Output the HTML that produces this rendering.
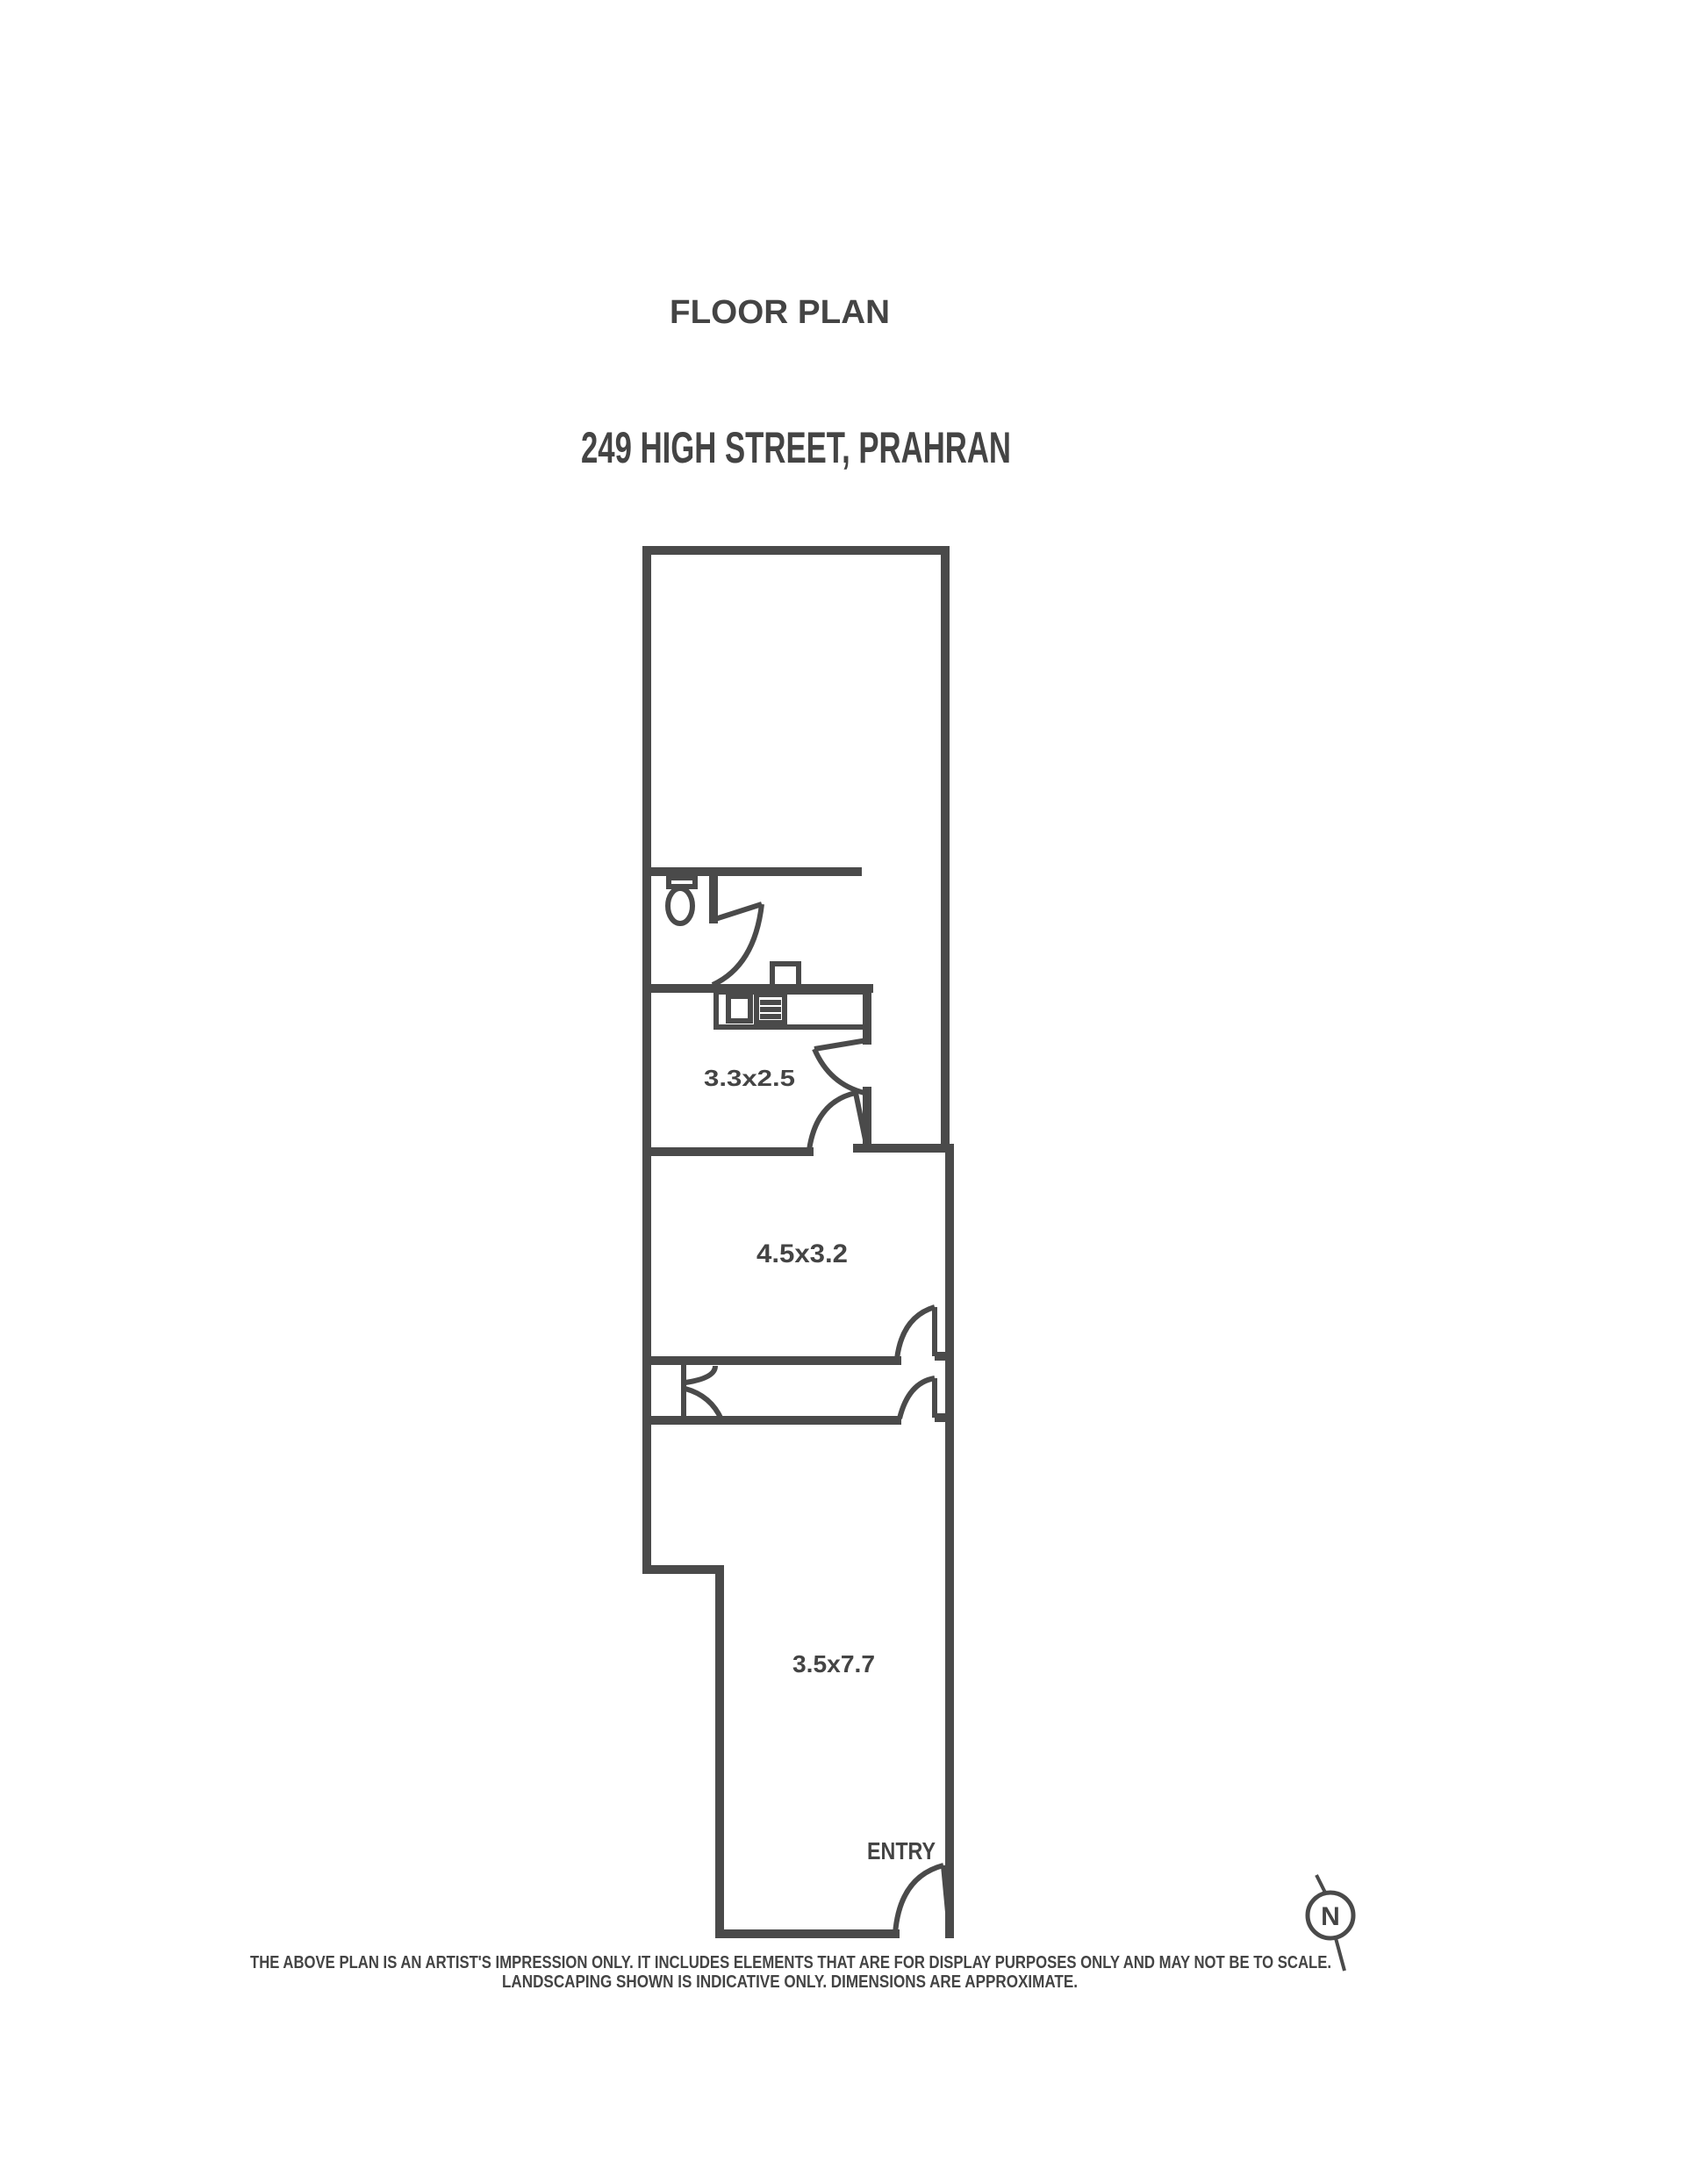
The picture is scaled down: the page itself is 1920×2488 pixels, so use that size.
<!DOCTYPE html>
<html><head><meta charset="utf-8"><style>
html,body{margin:0;padding:0;background:#fff;}
svg{display:block;}
text{font-family:"Liberation Sans",sans-serif;font-weight:bold;fill:#444;}
</style></head><body>
<svg width="1920" height="2488" viewBox="0 0 1920 2488" xmlns="http://www.w3.org/2000/svg">
<text x="763" y="368" font-size="38" textLength="251" lengthAdjust="spacingAndGlyphs">FLOOR PLAN</text>
<text x="662" y="527" font-size="50" textLength="490" lengthAdjust="spacingAndGlyphs" fill="#555">249   HIGH STREET, PRAHRAN</text>

<g stroke="#4a4a4a" stroke-width="10" fill="none" stroke-linecap="square">
<polyline points="1077,627 737,627 737,1788 820,1788 820,2203 1020,2203"/>
<polyline points="1077,627 1077,1308"/>
<polyline points="977,1308 1082,1308 1082,2203"/>
<line x1="737" y1="993" x2="977" y2="993"/>
<line x1="813" y1="993" x2="813" y2="1047"/>
<line x1="737" y1="1126" x2="990" y2="1126"/>
<line x1="988" y1="1126" x2="988" y2="1185"/>
<line x1="988" y1="1243" x2="988" y2="1308"/>
<line x1="737" y1="1312" x2="922" y2="1312"/>
<line x1="743" y1="1550" x2="1022" y2="1550"/>
<line x1="743" y1="1618" x2="1022" y2="1618"/>
<line x1="1070" y1="1545" x2="1082" y2="1545"/>
<line x1="1070" y1="1615" x2="1082" y2="1615"/>
</g>
<g stroke="#4a4a4a" stroke-width="6" fill="none">
<rect x="816" y="1130" width="170" height="40"/>
<rect x="830" y="1135" width="25" height="28"/>
<rect x="862" y="1133" width="32" height="32"/>
<line x1="866" y1="1142" x2="890" y2="1142"/><line x1="866" y1="1150" x2="890" y2="1150"/><line x1="866" y1="1158" x2="890" y2="1158"/>
<rect x="880" y="1098" width="30" height="26"/>
<rect x="762" y="1000" width="30" height="10"/>
<ellipse cx="775" cy="1032" rx="14" ry="20"/>
<line x1="815" y1="1047" x2="868" y2="1030"/>
<path d="M868,1030 Q860,1100 812,1122"/>
<line x1="988" y1="1185" x2="928" y2="1195"/>
<path d="M928,1195 Q945,1235 985,1245"/>
<line x1="975" y1="1245" x2="988" y2="1308"/>
<path d="M922,1310 Q930,1255 975,1245"/>
<line x1="1065" y1="1489" x2="1065" y2="1545"/>
<path d="M1022,1548 Q1028,1500 1065,1489"/>
<line x1="1065" y1="1570" x2="1065" y2="1615"/>
<path d="M1025,1616 Q1035,1575 1065,1570"/>
<line x1="779" y1="1555" x2="779" y2="1618"/>
<path d="M781,1575 Q815,1570 815,1556"/>
<path d="M781,1582 Q810,1590 822,1617"/>
<line x1="1075" y1="2125" x2="1082" y2="2200"/>
<path d="M1020,2203 Q1025,2138 1075,2125"/>
</g>
<text x="802" y="1237" font-size="26" textLength="104" lengthAdjust="spacingAndGlyphs">3.3x2.5</text>
<text x="862" y="1438" font-size="30" textLength="104" lengthAdjust="spacingAndGlyphs">4.5x3.2</text>
<text x="903" y="1905" font-size="28" textLength="94" lengthAdjust="spacingAndGlyphs">3.5x7.7</text>
<text x="988" y="2118" font-size="28" textLength="78" lengthAdjust="spacingAndGlyphs">ENTRY</text>
<circle cx="1516" cy="2182" r="26" stroke="#4a4a4a" stroke-width="5" fill="none"/>
<line x1="1510" y1="2156" x2="1500" y2="2136" stroke="#4a4a4a" stroke-width="4"/>
<line x1="1522" y1="2208" x2="1532" y2="2245" stroke="#4a4a4a" stroke-width="4"/>
<text x="1516" y="2193" font-size="30" text-anchor="middle">N</text>
<text x="285" y="2242" font-size="20" textLength="1232" lengthAdjust="spacingAndGlyphs" fill="#3a3a3a">THE ABOVE PLAN IS AN ARTIST'S IMPRESSION ONLY. IT INCLUDES ELEMENTS THAT ARE FOR DISPLAY PURPOSES ONLY AND MAY NOT BE TO SCALE.</text>
<text x="572" y="2264" font-size="20" textLength="656" lengthAdjust="spacingAndGlyphs" fill="#3a3a3a">LANDSCAPING SHOWN IS INDICATIVE ONLY. DIMENSIONS ARE APPROXIMATE.</text>
</svg>
</body></html>
